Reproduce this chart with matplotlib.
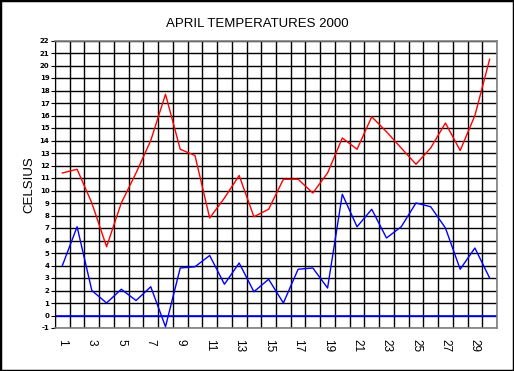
from matplotlib import pyplot as plt
from matplotlib.patches import Rectangle
import numpy as np

days = list(range(1, 31))
max_temp = [11.4, 11.7, 9.0, 5.5, 9.0, 11.4, 14.0, 17.7, 13.3, 12.8,
            7.8, 9.4, 11.2, 7.9, 8.5, 10.9, 10.9, 9.8, 11.4, 14.2,
            13.3, 15.9, 14.7, 13.4, 12.1, 13.4, 15.4, 13.2, 16.0, 20.5]
min_temp = [4.0, 7.1, 2.0, 1.0, 2.1, 1.2, 2.3, -0.9, 3.8, 3.9,
            4.8, 2.5, 4.2, 1.9, 2.9, 1.0, 3.7, 3.8, 2.2, 9.7,
            7.1, 8.5, 6.2, 7.1, 9.0, 8.7, 7.0, 3.7, 5.4, 3.0]
x_labels = [str(d) for d in days if d % 2 == 1]
y_ticks = list(range(-1, 23))


def DrawChart():
    fig = plt.figure(figsize=(5.14, 3.71), dpi=100)
    fig.patch.set_facecolor('white')
    ax = fig.add_axes([55 / 514, 1 - 328 / 371, 442 / 514, 287.5 / 371])

    # grid
    ax.set_xticks([d - 0.5 for d in days] + [30.5], minor=True)
    ax.set_xticks([d for d in days if d % 2 == 1])
    ax.set_xticklabels(x_labels, rotation=-90, family='Liberation Sans', fontsize=8.5)
    ax.set_yticks(y_ticks)
    ax.set_yticklabels([str(v) for v in y_ticks], fontsize=5, fontweight='bold')
    ax.grid(which='minor', axis='x', color='black', linewidth=1.0)
    ax.grid(which='major', axis='y', color='black', linewidth=1.0)
    ax.set_axisbelow(True)
    ax.tick_params(axis='x', which='both', length=0, pad=8)
    ax.tick_params(axis='y', length=3, width=0.8, pad=1)

    ax.axhline(0, color='#0000ff', linewidth=1.2, zorder=2)
    ax.plot(days, max_temp, color='#ff0000', linewidth=1.0, zorder=3)
    ax.plot(days, min_temp, color='#0000ff', linewidth=1.0, zorder=3)

    ax.set_xlim(0.5, 30.5)
    ax.set_ylim(-1, 22)
    for side in ['top', 'right', 'bottom']:
        ax.spines[side].set_color('#808080')
        ax.spines[side].set_linewidth(1.2)
    ax.spines['left'].set_color('black')

    ax.set_ylabel('CELSIUS', family='Liberation Sans', fontsize=9.5)
    ax.yaxis.set_label_coords(-20 / 442, 0.5)
    fig.text(0.5, 1 - 24 / 371, 'APRIL TEMPERATURES 2000', ha='center', va='center',
             family='Liberation Sans', fontsize=9.5)

    # 外框
    fig.patches.append(Rectangle((0, 0), 1, 1, transform=fig.transFigure,
                                 fill=False, edgecolor='black', linewidth=2.5))
    fig.savefig('out.png', dpi=100)


if __name__ == "__main__":
    DrawChart()
